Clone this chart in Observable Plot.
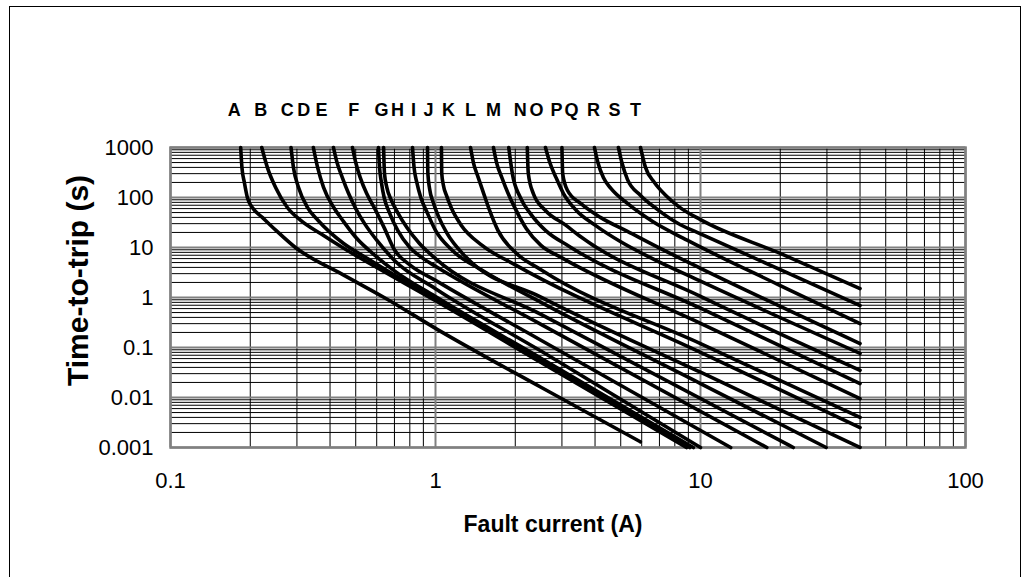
<!DOCTYPE html>
<html><head><meta charset="utf-8">
<script src="https://cdn.jsdelivr.net/npm/d3@7"></script>
<script src="https://cdn.jsdelivr.net/npm/@observablehq/plot@0.6"></script>
<style>
html,body{margin:0;padding:0;background:#fff;overflow:hidden;width:1026px;height:577px}
#border{position:absolute;left:9px;top:6px;width:1012px;height:640px;border:1.5px solid #000;box-sizing:border-box}
#chart{position:absolute;left:0;top:0}
</style></head><body>
<div id="border"></div>
<div id="chart"></div>
<script>
const letters = ["A","B","C","D","E","F","G","H","I","J","K","L","M","N","O","P","Q","R","S","T"];
// current (A) under each letter label
const labelCurrent = [0.174,0.219,0.276,0.318,0.371,0.491,0.625,0.719,0.826,0.941,1.12,1.355,1.655,2.09,2.405,2.86,3.26,3.95,4.74,5.69];

// [fault current (A), time-to-trip (s)]
const curveA = [[0.184,1000],[0.186,400],[0.19,200],[0.195,100],[0.205,60],[0.222,40],[0.25,22],[0.296,10],[0.44,3],[0.64,1],[1.03,0.22],[2.5,0.016],[5.93,0.0013]];
const curveB = [[0.221,1000],[0.232,400],[0.249,160],[0.276,63],[0.31,35],[0.368,19],[0.465,8.7],[0.6,4.0],[1,0.86],[2.5,0.05],[8.85,0.001]];
const curveC = [[0.285,1000],[0.291,400],[0.304,160],[0.329,63],[0.36,35],[0.4,20],[0.45,12],[0.554,6],[0.7,2.8],[1,0.94],[2.5,0.055],[9.1,0.001]];
const curveD = [[0.346,1000],[0.359,400],[0.378,160],[0.413,63],[0.45,33],[0.5,16],[0.6,6.5],[0.7,3.4],[1,1.04],[2.5,0.061],[9.4,0.001]];
const curveE = [[0.412,1000],[0.425,500],[0.445,250],[0.47,120],[0.5,60],[0.54,30],[0.6,14],[0.7,5.5],[1,1.5],[2.5,0.085],[10,0.001]];
const curveF = [[0.486,1000],[0.5,500],[0.52,250],[0.55,120],[0.59,60],[0.64,25],[0.7,9],[0.8,4.5],[1,2.2],[2.5,0.14],[13,0.001]];
const curveG = [[0.609,1000],[0.615,400],[0.625,200],[0.64,100],[0.67,50],[0.72,22],[0.8,10],[0.9,6],[1,4.2],[2.5,0.29],[17.8,0.001]];
const curveH = [[0.637,1000],[0.642,300],[0.655,160],[0.68,90],[0.72,50],[0.78,25],[0.87,12],[1,6],[2.5,0.46],[22.4,0.001]];
const curveI = [[0.819,1000],[0.83,400],[0.85,200],[0.88,100],[0.93,50],[1,22],[1.15,9],[1.5,3.5],[2.5,0.8],[10,0.019],[29.8,0.001]];
const curveJ = [[0.933,1000],[0.936,300],[0.95,150],[0.98,80],[1.03,40],[1.1,20],[1.3,6.5],[2.5,1.02],[10,0.032],[40,0.001]];
const curveK = [[1.053,1000],[1.056,300],[1.07,180],[1.1,110],[1.15,60],[1.25,28],[1.5,11],[2,4.5],[10,0.08],[40,0.0025]];
const curveL = [[1.356,1000],[1.39,500],[1.45,250],[1.52,120],[1.6,55],[1.72,22],[2,8],[2.5,3.6],[10,0.12],[40,0.004]];
const curveM = [[1.655,1000],[1.7,500],[1.78,250],[1.88,120],[2,60],[2.2,24],[2.5,11],[3,6.2],[10,0.304],[40,0.0095]];
const curveN = [[1.89,1000],[1.95,300],[2.09,100],[2.3,45],[2.6,22],[3.2,10.5],[10,0.61],[40,0.019]];
const curveO = [[2.22,1000],[2.24,300],[2.34,120],[2.6,55],[3.1,28],[3.5,17],[10,1.05],[40,0.035]];
const curveP = [[2.6,1000],[2.7,500],[2.85,250],[3.04,120],[3.4,55],[4,28],[5,13],[6.5,6.2],[10,2.12],[40,0.076]];
const curveQ = [[3,1000],[3.02,300],[3.15,138],[3.53,76],[4.19,40],[5.3,21],[7.07,9.5],[10,3.84],[40,0.12]];
const curveR = [[3.98,1000],[4.1,500],[4.3,250],[4.6,150],[5.3,76],[6.6,33],[8.9,14],[20,1.73],[40,0.3]];
const curveS = [[4.9,1000],[5.05,500],[5.3,230],[5.94,110],[6.87,58],[8.4,28.5],[10,18.8],[20,3.6],[40,0.69]];
const curveT = [[5.94,1000],[6.2,400],[6.7,200],[7.4,110],[8.3,65],[10,36],[20,7.6],[40,1.51]];

const xTicks = [0.1, 1, 10, 100];
const xTickLabels = ["0.1", "1", "10", "100"];
const yTicks = [0.001, 0.01, 0.1, 1, 10, 100, 1000];
const yTickLabels = ["0.001", "0.01", "0.1", "1", "10", "100", "1000"];
const xTitle = "Fault current (A)";
const yTitle = "Time-to-trip (s)";

const curves = [curveA,curveB,curveC,curveD,curveE,curveF,curveG,curveH,curveI,curveJ,
                curveK,curveL,curveM,curveN,curveO,curveP,curveQ,curveR,curveS,curveT];
const rows = curves.flatMap((c, i) => c.map(([x, y]) => ({k: letters[i], x, y})));
const labels = letters.map((k, i) => ({k, x: labelCurrent[i]}));

const minorOf = (decades) => decades.slice(0, -1).flatMap(d => [2,3,4,5,6,7,8,9].map(m => m * d));
const minorX = minorOf(xTicks);
const minorY = minorOf(yTicks);

const font = "'Liberation Sans', Arial, Helvetica, sans-serif";
const chart = Plot.plot({
  width: 1026, height: 577,
  marginLeft: 170, marginRight: 61, marginTop: 147, marginBottom: 130,
  x: {type: "log", domain: [0.1, 100]},
  y: {type: "log", domain: [0.001, 1000]},
  style: {fontFamily: font, fontSize: "22px", background: "transparent", color: "#000", overflow: "visible"},
  marks: [
    Plot.ruleY(minorY, {stroke: "#000", strokeWidth: 1}),
    Plot.ruleX(minorX, {stroke: "#000", strokeWidth: 1}),
    Plot.ruleY(yTicks, {stroke: "#808080", strokeWidth: 2}),
    Plot.ruleX(xTicks, {stroke: "#808080", strokeWidth: 2}),
    Plot.frame({stroke: "#808080", strokeWidth: 2.5}),
    Plot.line(rows, {x: "x", y: "y", z: "k", stroke: "#000", strokeWidth: 3.6,
      curve: "monotone-x", strokeLinecap: "round", strokeLinejoin: "round"}),
    Plot.axisX(xTicks, {tickSize: 0, tickPadding: 25, label: null,
      tickFormat: d => xTickLabels[xTicks.indexOf(d)], fontSize: 22}),
    Plot.axisY(yTicks, {tickSize: 0, tickPadding: 17, label: null,
      tickFormat: d => yTickLabels[yTicks.indexOf(d)], fontSize: 22}),
    Plot.text(labels, {x: "x", text: "k", frameAnchor: "top", lineAnchor: "middle", dy: -37,
      fontSize: 18, fontWeight: "bold"}),
    Plot.text([xTitle], {frameAnchor: "bottom", textAnchor: "middle", lineAnchor: "middle",
      dx: -15, dy: 77, fontSize: 23, fontWeight: "bold"}),
    Plot.text([yTitle], {frameAnchor: "left", textAnchor: "middle", lineAnchor: "middle",
      rotate: -90, dx: -92, dy: -17, fontSize: 30, fontWeight: "bold"})
  ]
});
document.getElementById("chart").appendChild(chart);
</script>
</body></html>
